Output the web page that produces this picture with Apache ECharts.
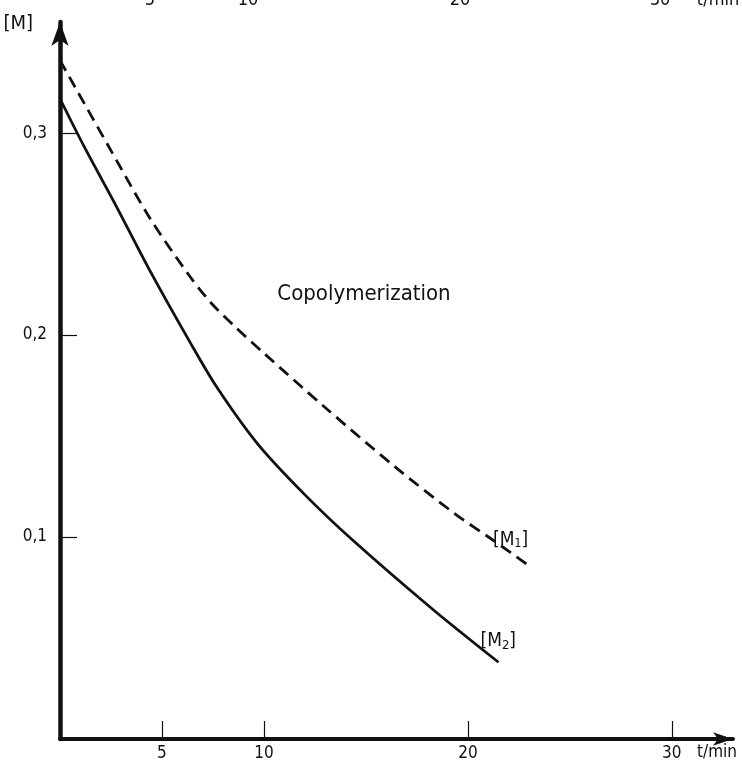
<!DOCTYPE html>
<html>
<head>
<meta charset="utf-8">
<title>Copolymerization</title>
<script src="https://cdn.jsdelivr.net/npm/echarts@6/dist/echarts.min.js"></script>
<style>
    html, body { margin: 0; padding: 0; background: #fff; }
    #main { width: 742px; height: 762px; }
</style>
</head>
<body>
<div id="main"></div>
<script type="text/javascript">
    // values (t in min, concentration [M])
    var tM1 = [0, 2.8, 4.4, 6.3, 7.4, 8.6, 10.0, 12.9, 16.4, 19.3, 21.3, 23.1];
    var valM1 = [0.336, 0.286, 0.258, 0.230, 0.216, 0.204, 0.191, 0.165, 0.135, 0.112, 0.098, 0.085];
    var tM2 = [0, 1.2, 2.8, 4.4, 6.4, 7.7, 9.7, 12.0, 14.4, 18.3, 21.5];
    var valM2 = [0.317, 0.293, 0.263, 0.232, 0.196, 0.174, 0.146, 0.121, 0.098, 0.064, 0.038];

    var xTicks = [5, 10, 20, 30];
    var yTicks = [0.1, 0.2, 0.3];
    // labels of the figure above, cut off at the top edge
    var topStripLabels = ['5', '10', '20', '30', 't/min'];
    var topStripX = [150, 248, 460, 660, 718];

    var font = "'DejaVu Sans Condensed', 'DejaVu Sans', sans-serif";
    var ink = '#111';

    function pairs(xs, ys) {
        return xs.map(function (x, i) { return [x, ys[i]]; });
    }

    var myChart = echarts.init(document.getElementById('main'));

    var topTexts = topStripLabels.map(function (s, i) {
        return {
            type: 'text',
            x: topStripX[i],
            y: 9,
            style: {
                text: s,
                font: '18px ' + font,
                fill: ink,
                align: 'center',
                verticalAlign: 'bottom'
            }
        };
    });

    myChart.setOption({
        animation: false,
        backgroundColor: '#fff',
        grid: {
            left: 60,
            right: 9,
            top: 22,
            bottom: 21,
            containLabel: false
        },
        xAxis: {
            type: 'value',
            min: 0,
            max: 33,
            name: 't/min',
            nameLocation: 'end',
            nameGap: -36,
            nameTextStyle: {
                color: ink,
                fontFamily: font,
                fontSize: 17,
                align: 'left',
                verticalAlign: 'top',
                padding: [5, 0, 0, 0]
            },
            splitLine: { show: false },
            axisLine: {
                show: true,
                symbol: ['none', 'arrow'],
                symbolSize: [10, 20],
                lineStyle: { color: ink, width: 4 }
            },
            axisTick: {
                show: true,
                inside: true,
                length: 18,
                customValues: xTicks,
                lineStyle: { color: ink, width: 1.2 }
            },
            axisLabel: {
                customValues: xTicks,
                margin: 6,
                color: ink,
                fontFamily: font,
                fontSize: 17
            }
        },
        yAxis: {
            type: 'value',
            min: 0,
            max: 0.355,
            name: '[M]',
            nameLocation: 'end',
            nameGap: -2,
            nameTextStyle: {
                color: ink,
                fontFamily: font,
                fontSize: 20,
                align: 'right',
                verticalAlign: 'middle',
                padding: [0, 27, 0, 0]
            },
            splitLine: { show: false },
            axisLine: {
                show: true,
                symbol: ['none', 'arrow'],
                symbolSize: [13, 24],
                lineStyle: { color: ink, width: 4.5 }
            },
            axisTick: {
                show: true,
                inside: true,
                length: 17,
                customValues: yTicks,
                lineStyle: { color: ink, width: 1.2 }
            },
            axisLabel: {
                customValues: yTicks,
                margin: 13,
                color: ink,
                fontFamily: font,
                fontSize: 17,
                formatter: function (v) {
                    return v.toFixed(1).replace('.', ',');
                }
            }
        },
        graphic: topTexts.concat([{
            type: 'text',
            x: 364,
            y: 294,
            style: {
                text: 'Copolymerization',
                font: '22px ' + font,
                fill: ink,
                align: 'center',
                verticalAlign: 'middle'
            }
        }]),
        series: [{
            name: 'M1',
            type: 'line',
            data: pairs(tM1, valM1),
            smooth: 0.3,
            showSymbol: false,
            lineStyle: { color: ink, width: 2.8, type: [12, 7] },
            endLabel: {
                show: true,
                distance: 0,
                offset: [-38, -27],
                formatter: '{a|[M}{s|1}{a|]}',
                rich: {
                    a: { fontFamily: font, fontSize: 19, color: ink },
                    s: { fontFamily: font, fontSize: 12, color: ink, padding: [8, 0, 0, 0] }
                }
            }
        }, {
            name: 'M2',
            type: 'line',
            data: pairs(tM2, valM2),
            smooth: 0.3,
            showSymbol: false,
            lineStyle: { color: ink, width: 2.8 },
            endLabel: {
                show: true,
                distance: 0,
                offset: [-18, -21],
                formatter: '{a|[M}{s|2}{a|]}',
                rich: {
                    a: { fontFamily: font, fontSize: 19, color: ink },
                    s: { fontFamily: font, fontSize: 13, color: ink, padding: [8, 0, 0, 0] }
                }
            }
        }]
    });
</script>
</body>
</html>
